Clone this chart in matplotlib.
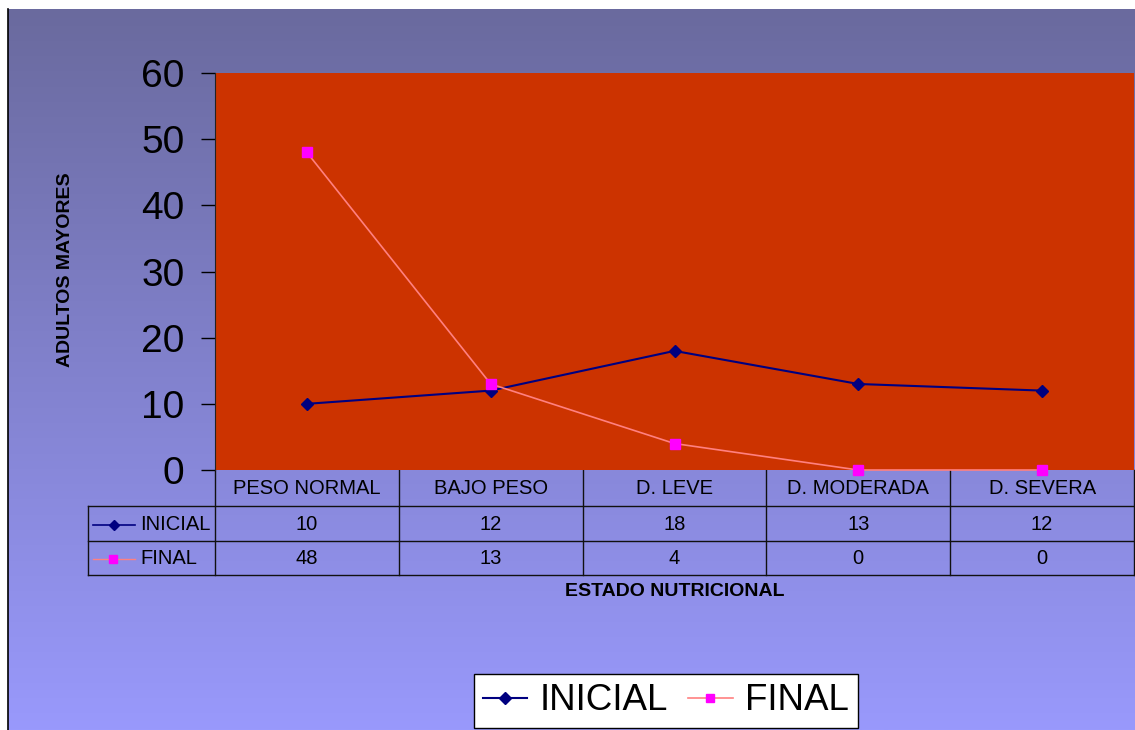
#!/usr/bin/env python3
"""Estado nutricional de adultos mayores: INICIAL vs FINAL, with data table."""
import numpy as np
import matplotlib
matplotlib.use('Agg')
import matplotlib.pyplot as plt
from matplotlib.colors import LinearSegmentedColormap
from matplotlib.lines import Line2D

plt.rcParams['font.family'] = ['Liberation Sans', 'DejaVu Sans']

categories = ['PESO NORMAL', 'BAJO PESO', 'D. LEVE', 'D. MODERADA', 'D. SEVERA']
inicial = [10, 12, 18, 13, 12]
final = [48, 13, 4, 0, 0]
series_names = ['INICIAL', 'FINAL']

W, H = 1135, 730
fig = plt.figure(figsize=(W / 100, H / 100), dpi=100)
fig.patch.set_facecolor('white')

# background gradient + table, in pixel coordinates
bg = fig.add_axes([0, 0, 1, 1], zorder=0)
bg.set_xlim(0, W)
bg.set_ylim(H, 0)
bg.axis('off')
cmap = LinearSegmentedColormap.from_list('bg', ['#6a6a9e', '#9999fc'])
grad = np.linspace(0, 1, 256).reshape(-1, 1)
bg.imshow(grad, cmap=cmap, aspect='auto', extent=(8, W, H, 9), zorder=0)
bg.plot([8, 8], [9, H], color='black', lw=1.2, zorder=1)

# main plot area
x0, x1, y0, y1 = 215, 1134, 73, 470
ax = fig.add_axes([x0 / W, 1 - y1 / H, (x1 - x0) / W, (y1 - y0) / H], zorder=2)
ax.set_facecolor('#cc3300')
x = np.arange(len(categories))
ax.plot(x, inicial, color='#000080', lw=1.5, marker='D', ms=6.5,
        markerfacecolor='#000080', markeredgecolor='#000080', zorder=3)
ax.plot(x, final, color='#ff8080', lw=1.2, marker='s', ms=6.5,
        markerfacecolor='#ff00ff', markeredgecolor='#ff00ff', clip_on=False, zorder=3)
ax.set_xlim(-0.5, len(categories) - 0.5)
ax.set_ylim(0, 60)
ax.set_yticks(range(0, 61, 10))
ax.tick_params(axis='y', labelsize=28, length=10, width=1, direction='out', pad=12)
ax.set_xticks([])
for s in ['top', 'right', 'bottom']:
    ax.spines[s].set_visible(False)
ax.spines['left'].set_color('#222222')

# data table
fs = 14.5
colw = (x1 - x0) / len(categories)
rows = [470, 506, 541, 575]
lc = '#111111'
for r in rows[1:]:
    bg.plot([88, x1], [r, r], color=lc, lw=1, zorder=2)
for i in range(len(categories) + 1):
    xx = x0 + i * colw
    bg.plot([xx, xx], [rows[0], rows[3]], color=lc, lw=1, zorder=2)
bg.plot([88, 88], [rows[1], rows[3]], color=lc, lw=1, zorder=2)
for i, cat in enumerate(categories):
    cx = x0 + (i + 0.5) * colw
    bg.text(cx, (rows[0] + rows[1]) / 2 + 1, cat, ha='center', va='center', fontsize=fs)
    bg.text(cx, (rows[1] + rows[2]) / 2 + 1, str(inicial[i]), ha='center', va='center', fontsize=fs)
    bg.text(cx, (rows[2] + rows[3]) / 2 + 1, str(final[i]), ha='center', va='center', fontsize=fs)

# row keys
ry1 = (rows[1] + rows[2]) / 2
ry2 = (rows[2] + rows[3]) / 2
bg.plot([93, 135], [ry1 + 1, ry1 + 1], color='#000080', lw=1.2, zorder=3)
bg.plot([114], [ry1 + 1], marker='D', ms=5, color='#000080', zorder=3)
bg.plot([93, 135], [ry2 + 1, ry2 + 1], color='#ff8080', lw=1, zorder=3)
bg.plot([113], [ry2 + 1], marker='s', ms=6, color='#ff00ff', zorder=3)
bg.text(140, ry1 + 1, series_names[0], ha='left', va='center', fontsize=fs)
bg.text(140, ry2 + 1, series_names[1], ha='left', va='center', fontsize=fs)

# axis titles
bg.text(66, 270, 'ADULTOS MAYORES', rotation=90, ha='center', va='center',
        fontsize=14, fontweight='bold')
bg.text(675, 592, 'ESTADO NUTRICIONAL', ha='center', va='center',
        fontsize=14, fontweight='bold')

# legend
handles = [
    Line2D([], [], color='#000080', lw=1.5, marker='D', ms=6, markerfacecolor='#000080'),
    Line2D([], [], color='#ff8080', lw=1.2, marker='s', ms=6, markerfacecolor='#ff00ff',
           markeredgecolor='#ff00ff'),
]
leg = fig.legend(handles, series_names, loc='center', bbox_to_anchor=(666 / W, 1 - 701 / H),
                 ncol=2, fontsize=26.5, frameon=True, fancybox=False, framealpha=1,
                 edgecolor='black', handlelength=1.2, handletextpad=0.35, columnspacing=0.55,
                 borderpad=0.25, borderaxespad=0)
leg.get_frame().set_linewidth(1)

fig.savefig('out.png', dpi=100)
print('Wrote figure to out.png')
